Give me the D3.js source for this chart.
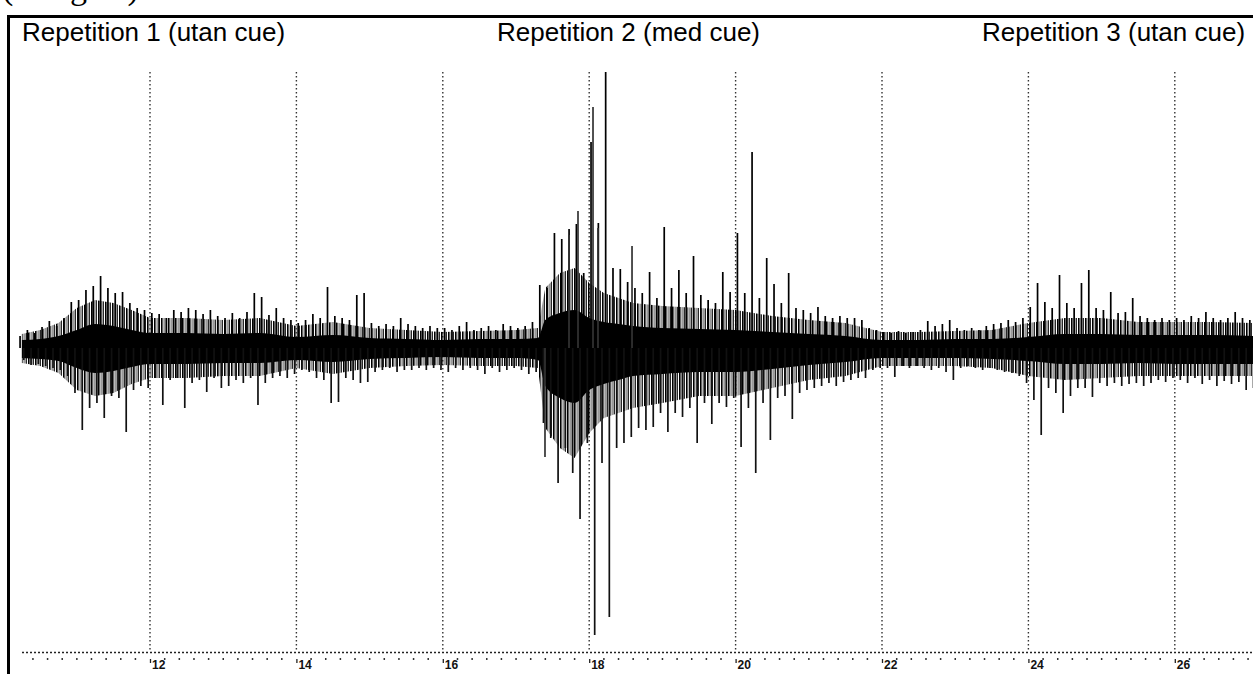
<!DOCTYPE html>
<html>
<head>
<meta charset="utf-8">
<script src="https://cdn.jsdelivr.net/npm/d3@7"></script>
<style>
body { margin: 0; background: #fff; }
svg { display: block; }
</style>
</head>
<body>
<svg id="chart" width="1253" height="674"></svg>
<script>
// signal envelope, one value per 0.1 s bin starting at 10.2 s (arbitrary units)
var binStart = 10.2;
var binStep = 0.1;

var hiVals = [
    12, 18, 15, 21, 27, 22, 30, 46,
    48, 58, 62, 72, 60, 55, 56, 45, 40, 38,
    35, 34, 30, 38, 36, 40, 38, 34, 38, 32,
    30, 35, 30, 36, 55, 51, 33, 40, 30, 28,
    25, 28, 34, 30, 61, 32, 30, 28, 53, 55,
    25, 22, 24, 22, 30, 24, 22, 20, 22, 20,
    20, 18, 22, 26, 18, 20, 22, 18, 24, 22,
    20, 22, 26, 63, 60, 115, 109, 119, 124, 75,
    206, 125, 276, 80, 79, 66, 60, 55, 76, 50,
    121, 60, 78, 55, 92, 53, 48, 45, 76, 56,
    115, 55, 196, 50, 90, 64, 45, 75, 40, 38,
    35, 41, 32, 30, 32, 30, 30, 28, 20, 18,
    16, 15, 17, 15, 16, 18, 27, 22, 24, 28,
    20, 18, 20, 18, 22, 24, 25, 28, 26, 30,
    41, 65, 46, 40, 73, 45, 40, 65, 78, 40,
    38, 56, 35, 36, 50, 32, 30, 28, 30, 28,
    30, 28, 32, 30, 36, 30, 28, 30, 36, 30,
    28
];

var loVals = [
    -12, -17, -16, -18, -20, -22, -28, -45,
    -82, -60, -55, -70, -48, -50, -84, -42, -38, -40,
    -30, -57, -32, -30, -60, -35, -32, -44, -30, -40,
    -38, -32, -35, -30, -57, -35, -30, -28, -30, -26,
    -22, -24, -30, -32, -55, -54, -30, -32, -35, -34,
    -24, -22, -20, -24, -22, -22, -20, -22, -20, -22,
    -24, -20, -22, -20, -22, -26, -20, -24, -22, -20,
    -22, -26, -24, -75, -90, -135, -100, -125, -171, -95,
    -287, -115, -269, -100, -95, -89, -80, -82, -79, -65,
    -84, -65, -69, -60, -95, -55, -76, -55, -59, -50,
    -99, -60, -125, -55, -92, -50, -48, -71, -45, -42,
    -40, -38, -35, -38, -34, -32, -30, -30, -22, -20,
    -20, -29, -18, -20, -18, -20, -22, -20, -24, -32,
    -20, -18, -20, -22, -20, -22, -24, -25, -28, -35,
    -52, -87, -40, -45, -65, -48, -40, -40, -49, -35,
    -38, -35, -38, -36, -35, -38, -35, -32, -34, -30,
    -32, -35, -30, -36, -32, -38, -33, -36, -34, -42,
    -40
];

// extra single spikes that sit between bins
var spikeTimes = [17.396, 17.724, 17.847, 18.052, 18.12, 18.585];
var spikeVals  = [-109, 113, 137, 241, 120, 102];

// envelope of the trace: solid core and the hairy fringe around it
var envTimes = [10.25, 10.5, 10.75, 11.0, 11.25, 11.5, 11.75, 12.0, 12.5, 13.0, 13.5, 14.0, 14.5,
    15.0, 15.5, 16.0, 16.5, 17.0, 17.3, 17.4, 17.6, 17.8, 18.0, 18.2, 18.4, 18.6, 19.0, 19.5,
    20.0, 20.5, 21.0, 21.5, 22.0, 22.5, 23.0, 23.5, 24.0, 24.5, 25.0, 25.5, 26.0, 26.5, 27.1];
var coreUp = [8, 9, 12, 18, 24, 22, 18, 15, 15, 14, 15, 11, 13,
    10, 9, 8, 9, 9, 10, 28, 35, 38, 30, 26, 24, 22, 20, 19,
    18, 16, 14, 12, 8, 8, 9, 9, 11, 14, 14, 13, 13, 13, 12];
var coreDown = [-10, -11, -13, -20, -25, -23, -19, -16, -16, -15, -15, -12, -14,
    -11, -10, -9, -10, -10, -12, -38, -50, -55, -42, -36, -32, -28, -26, -24,
    -24, -21, -17, -14, -10, -10, -10, -11, -13, -16, -16, -15, -16, -16, -16];
var fringeUp = [14, 18, 25, 40, 48, 45, 38, 30, 30, 28, 30, 22, 26,
    20, 18, 16, 17, 18, 20, 60, 75, 80, 65, 55, 50, 45, 42, 40,
    38, 32, 28, 25, 16, 16, 17, 18, 25, 30, 30, 26, 26, 26, 25];
var fringeDown = [-15, -18, -25, -42, -48, -45, -36, -30, -30, -28, -28, -20, -26,
    -20, -18, -17, -18, -18, -20, -80, -100, -110, -85, -70, -65, -60, -55, -48,
    -48, -40, -32, -28, -18, -18, -18, -20, -28, -32, -30, -28, -28, -28, -28];

var tickVals = [12, 14, 16, 18, 20, 22, 24, 26];
var titles = ["Repetition 1 (utan cue)", "Repetition 2 (med cue)", "Repetition 3 (utan cue)"];
var caption = "(Bilaga 1)";

var W = 1253, H = 674;
var svg = d3.select("#chart");

var x = d3.scaleLinear().domain([12, 26]).range([150, 1174.8]);
var y = d3.scaleLinear().domain([-300, 300]).range([648, 48]);

var AXIS_Y = 652;

// hatch for the fringe
var defs = svg.append("defs");
var pat = defs.append("pattern")
    .attr("id", "hair")
    .attr("patternUnits", "userSpaceOnUse")
    .attr("width", 7)
    .attr("height", 8);
pat.append("rect").attr("x", 0).attr("y", 0).attr("width", 1.6).attr("height", 8).attr("fill", "#000");
pat.append("rect").attr("x", 2.6).attr("y", 0).attr("width", 1).attr("height", 8).attr("fill", "#555");
pat.append("rect").attr("x", 4.6).attr("y", 0).attr("width", 1.3).attr("height", 8).attr("fill", "#111");

// clipped caption above the frame
svg.append("text")
    .attr("x", 2)
    .attr("y", -1)
    .style("font-family", "'Liberation Serif', 'Times New Roman', serif")
    .style("font-size", "34px")
    .text(caption);

// frame
svg.append("path")
    .attr("d", "M8.5," + H + "V16.5H" + (W + 5))
    .attr("fill", "none")
    .attr("stroke", "#000")
    .attr("stroke-width", 3);

// vertical dotted grid
svg.append("g").selectAll("line")
    .data(tickVals)
    .enter().append("line")
    .attr("x1", function(d) { return x(d); })
    .attr("x2", function(d) { return x(d); })
    .attr("y1", 72)
    .attr("y2", AXIS_Y)
    .attr("stroke", "#333")
    .attr("stroke-width", 1.4)
    .attr("stroke-dasharray", "1.4,2.6");

// bottom axis
var axis = d3.axisBottom(x)
    .tickValues(tickVals)
    .tickSize(0)
    .tickFormat(d3.format("d"));

var ag = svg.append("g")
    .attr("transform", "translate(0," + AXIS_Y + ")")
    .call(axis);

ag.select(".domain").remove();
ag.append("line")
    .attr("x1", 22).attr("x2", W)
    .attr("y1", 0.5).attr("y2", 0.5)
    .attr("stroke", "#222")
    .attr("stroke-width", 1.3)
    .attr("stroke-dasharray", "2,2");

ag.selectAll(".tick line")
    .attr("y1", 7).attr("y2", 11)
    .attr("stroke", "#222")
    .attr("stroke-width", 1.3);

ag.selectAll(".tick text")
    .attr("y", 8)
    .attr("dy", "0.75em")
    .attr("x", 1.5)
    .attr("text-anchor", "start")
    .attr("fill", "#111")
    .style("font-family", "'Liberation Sans Narrow', 'Liberation Sans', Arial, sans-serif")
    .style("font-weight", "bold")
    .style("font-size", "12px");

// minor dots every 0.2 s
var minor = d3.range(10.4, 27.1, 0.2).filter(function(t) {
    return tickVals.indexOf(Math.round(t * 10) / 10) < 0;
});
ag.append("g").selectAll("rect")
    .data(minor)
    .enter().append("rect")
    .attr("x", function(d) { return x(d) - 0.7; })
    .attr("y", 6)
    .attr("width", 1.5)
    .attr("height", 2)
    .attr("fill", "#333");

// signal
var sig = svg.append("g");

var env = envTimes.map(function(t, i) {
    return { t: t, cu: coreUp[i], cd: coreDown[i], fu: fringeUp[i], fd: fringeDown[i] };
});

var fringeArea = d3.area()
    .x(function(d) { return x(d.t); })
    .y0(function(d) { return y(d.fd); })
    .y1(function(d) { return y(d.fu); })
    .curve(d3.curveLinear);

var coreArea = d3.area()
    .x(function(d) { return x(d.t); })
    .y0(function(d) { return y(d.cd); })
    .y1(function(d) { return y(d.cu); })
    .curve(d3.curveMonotoneX);

sig.append("path")
    .datum(env)
    .attr("d", fringeArea)
    .attr("fill", "url(#hair)");

sig.append("path")
    .datum(env)
    .attr("d", coreArea)
    .attr("fill", "#000");

var bins = hiVals.map(function(h, i) {
    return { t: binStart + i * binStep, hi: h, lo: loVals[i] };
});

sig.append("g").selectAll("line")
    .data(bins)
    .enter().append("line")
    .attr("x1", function(d) { return x(d.t + 0.025); })
    .attr("x2", function(d) { return x(d.t + 0.025); })
    .attr("y1", y(0))
    .attr("y2", function(d) { return y(d.hi); })
    .attr("stroke", "#000")
    .attr("stroke-width", 1.7);

sig.append("g").selectAll("line")
    .data(bins)
    .enter().append("line")
    .attr("x1", function(d) { return x(d.t + 0.075); })
    .attr("x2", function(d) { return x(d.t + 0.075); })
    .attr("y1", y(0))
    .attr("y2", function(d) { return y(d.lo); })
    .attr("stroke", "#111")
    .attr("stroke-width", 1.7);

sig.append("g").selectAll("line")
    .data(spikeTimes)
    .enter().append("line")
    .attr("x1", function(d) { return x(d); })
    .attr("x2", function(d) { return x(d); })
    .attr("y1", y(0))
    .attr("y2", function(d, i) { return y(spikeVals[i]); })
    .attr("stroke", "#333")
    .attr("stroke-width", 1.7);

// titles
var titleX = [22, 497, 982];
svg.append("g").selectAll("text")
    .data(titles)
    .enter().append("text")
    .attr("x", function(d, i) { return titleX[i]; })
    .attr("y", 41)
    .style("font-family", "'Liberation Sans', Arial, sans-serif")
    .style("font-size", "26px")
    .attr("fill", "#000")
    .text(function(d) { return d; });
</script>
</body>
</html>
